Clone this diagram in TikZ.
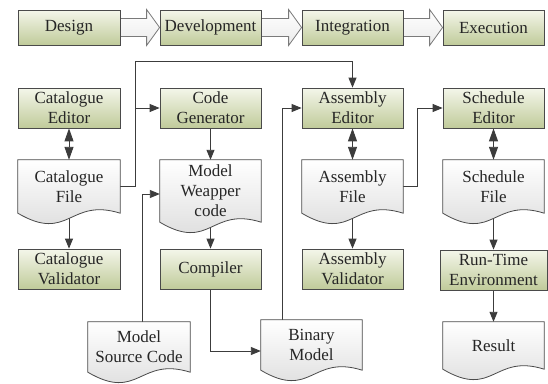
\documentclass[tikz,border=0pt]{standalone}
\usepackage{fontspec}
\setmainfont{Liberation Serif}
\newfontfamily\labelserif{Liberation Serif}
\usetikzlibrary{arrows.meta,calc}

\definecolor{ink}{HTML}{262626}
\definecolor{edge}{HTML}{4A4A4A}
\definecolor{greentop}{HTML}{F4F6EA}
\definecolor{greenbot}{HTML}{C0CB9A}
\definecolor{docbot}{HTML}{D8D8D8}
\definecolor{wirec}{HTML}{3C3C3C}
\definecolor{phaseedge}{HTML}{7A7A7A}

\pgfdeclarelayer{paper}
\pgfdeclarelayer{phase}
\pgfdeclarelayer{wires}
\pgfdeclarelayer{docs}
\pgfsetlayers{paper,phase,wires,docs,main}

\tikzset{
  labelfont/.style={font=\labelserif\fontsize{17}{20}\selectfont, text=ink, align=center, inner sep=0pt},
  stage/.style={labelfont, draw=edge, line width=0.8pt, top color=greentop, bottom color=greenbot,
                minimum width=102pt, minimum height=40pt},
  phasebox/.style={stage, minimum height=35pt},
  docbox/.style={labelfont, minimum width=102pt},
  docline/.style={draw=edge, line width=0.8pt, top color=white, bottom color=docbot},
  wire/.style={draw=wirec, line width=0.9pt, -{Triangle[length=10pt,width=8pt]}},
  twoway/.style={draw=wirec, line width=0.9pt,
                 {Triangle[length=13pt,width=9pt]}-{Triangle[length=13pt,width=9pt]}},
  phaseline/.style={draw=phaseedge, line width=0.8pt, top color=white, bottom color=black!8}
}

% page-shaped outline with a wavy lower edge, drawn behind a document node
\newcommand\docoutline[1]{%
  \path[docline] (#1.north west) -- (#1.north east) -- (#1.south east)
    .. controls ($(#1.south east)!0.5!(#1.south west)+(0,-16)$)
       and ($(#1.south east)!0.5!(#1.south west)+(0,30)$) .. (#1.south west) -- cycle;}

% broad hollow arrow linking two phases
\newcommand\phasearrow[2]{%
  \path[phaseline] ($(#1.east)+(0,9)$) -- ($(#2.west)+(-13,9)$) -- ($(#2.west)+(-13,18)$)
    -- (#2.west) -- ($(#2.west)+(-13,-18)$) -- ($(#2.west)+(-13,-9)$)
    -- ($(#1.east)+(0,-9)$) -- cycle;}

\begin{document}
\begin{tikzpicture}[x=1pt,y=-1pt]
\begin{pgfonlayer}{paper}
  \fill[white] (0,0) rectangle (548,383);
\end{pgfonlayer}
\useasboundingbox (0,0) rectangle (548,383);

% phases
\node[phasebox] (design) at (69,27.5) {Design};
\node[phasebox, minimum width=101pt] (devel) at (210.5,27.5) {Development};
\node[phasebox, minimum width=101pt] (integ) at (352.5,27.5) {Integration};
\node[phasebox, minimum width=101pt] (exec) at (493.5,27.5) {Execution};
\begin{pgfonlayer}{phase}
  \phasearrow{design}{devel}
  \phasearrow{devel}{integ}
  \phasearrow{integ}{exec}
\end{pgfonlayer}

% tools
\node[stage] (ce) at (69,108) {Catalogue\\Editor};
\node[stage, minimum width=101pt] (cg) at (210.5,108) {Code\\Generator};
\node[stage, minimum width=101pt] (ae) at (352.5,108) {Assembly\\Editor};
\node[stage, minimum width=101pt] (se) at (493.5,108) {Schedule\\Editor};

\node[stage] (cv) at (69,269) {Catalogue\\Validator};
\node[stage, minimum width=101pt] (cp) at (210.5,269) {Compiler};
\node[stage, minimum width=101pt] (av) at (352.5,269) {Assembly\\Validator};
\node[stage, minimum width=107pt] (rt) at (493.5,270) {Run-Time\\Environment};

% documents
\node[docbox, minimum height=53pt] (cf) at (69,186.5) {Catalogue\\File};
\node[docbox, minimum width=101pt, minimum height=62pt] (mw) at (210.5,191) {Model\\Weapper\\code};
\node[docbox, minimum width=101pt, minimum height=53pt] (af) at (352.5,186.5) {Assembly\\File};
\node[docbox, minimum width=101pt, minimum height=53pt] (sf) at (493.5,186.5) {Schedule\\File};
\node[docbox, minimum height=50pt] (msc) at (139,347) {Model\\Source Code};
\node[docbox, minimum width=101pt, minimum height=50pt] (bm) at (311.5,345) {Binary\\Model};
\node[docbox, minimum width=101pt, minimum height=47pt] (rs) at (493.5,345.5) {Result};
\begin{pgfonlayer}{docs}
  \docoutline{cf}\docoutline{mw}\docoutline{af}\docoutline{sf}
  \docoutline{msc}\docoutline{bm}\docoutline{rs}
\end{pgfonlayer}

% routing columns
\coordinate (j1) at (135,61);
\coordinate (j2) at (142,0);
\coordinate (j3) at (282,0);
\coordinate (j4) at (417,0);

\begin{pgfonlayer}{wires}
  \draw[twoway] (ce.south) -- (cf.north);
  \draw[wire] (cf.south) -- (cv.north);
  \draw[wire] (cf.east) -| (j1) -| (ae.north);
  \draw[wire] (cg.west -| j1) -- (cg.west);
  \draw[wire] (cg.south) -- (mw.north);
  \draw[wire] (mw.south) -- (cp.north);
  \draw[wire] (msc.north -| j2) |- ([yshift=-3pt]mw.west);
  \draw[wire] (cp.south) |- ([yshift=-6pt]bm.west);
  \draw[wire] (bm.north -| j3) |- (ae.west);
  \draw[twoway] (ae.south) -- (af.north);
  \draw[wire] (af.south) -- (av.north);
  \draw[wire] (af.east) -- (af.east -| j4) |- (se.west);
  \draw[twoway] (se.south) -- (sf.north);
  \draw[wire] (sf.south) -- (rt.north);
  \draw[wire] (rt.south) -- (rs.north);
\end{pgfonlayer}
\end{tikzpicture}
\end{document}
